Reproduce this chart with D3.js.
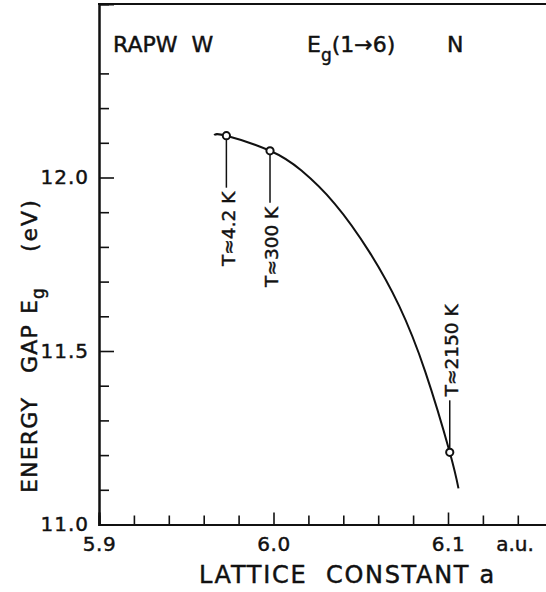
<!DOCTYPE html>
<html><head><meta charset="utf-8">
<script src="https://cdn.jsdelivr.net/npm/d3@7"></script>
<style>
body{margin:0;background:#fff}
svg{display:block;font-family:"DejaVu Sans",sans-serif;overflow:hidden}
svg text{stroke:#111;stroke-width:0.45px}
</style></head><body>
<svg id="chart" width="546" height="592"></svg>
<script>
// RAPW energy gap Eg(1->6) at N for W versus lattice constant
const curveA = [5.966, 5.973, 5.998, 6.016, 6.035, 6.055, 6.072, 6.087, 6.101, 6.106];
const curveE = [12.122, 12.1205, 12.077, 12.020, 11.925, 11.785, 11.630, 11.440, 11.208, 11.104];

// Temperatures marked on the curve
const tempLabels = ["T\u22484.2 K", "T\u2248300 K", "T\u22482150 K"];
const tempA = [5.973, 5.998, 6.101];
const tempE = [12.1205, 12.077, 11.208];
const tempSide = ["below", "below", "above"];

// Axis ticks
const xMajor = [5.9, 6.0, 6.1];
const xMinor = [5.92, 5.94, 5.96, 5.98, 6.02, 6.04, 6.06, 6.08, 6.12, 6.14, 6.16];
const yMajor = [11.0, 11.5, 12.0];
const yMinor = [11.1, 11.2, 11.3, 11.4, 11.6, 11.7, 11.8, 11.9, 12.1, 12.2, 12.3];

const svg = d3.select("#chart");
const x = d3.scaleLinear().domain([5.9, 6.2]).range([99, 622.5]);
const y = d3.scaleLinear().domain([11.0, 12.5]).range([524.5, 4]);
const ink = "#111";

// frame: top border
svg.append("line")
  .attr("x1", x(5.9) - 1).attr("x2", x(6.2))
  .attr("y1", y(12.5)).attr("y2", y(12.5))
  .attr("stroke", ink).attr("stroke-width", 2);

// x axis
const gx = svg.append("g").attr("transform", `translate(0,${y(11.0)})`);
gx.call(d3.axisBottom(x).tickValues(xMinor).tickSize(-9).tickFormat(""));
gx.call(g => g.append("g").call(
  d3.axisBottom(x).tickValues(xMajor).tickSize(-12).tickPadding(12).tickFormat(d3.format(".1f"))));
gx.selectAll("path.domain").attr("stroke", ink).attr("stroke-width", 2);
gx.selectAll(".tick line").attr("stroke", ink).attr("stroke-width", 1.6);
gx.selectAll(".tick text").attr("fill", ink).attr("font-size", 20)
  .attr("font-family", "DejaVu Sans").attr("letter-spacing", 0.5);
svg.append("text").attr("x", 515).attr("y", 551).attr("text-anchor", "middle")
  .attr("font-size", 20).attr("fill", ink).text("a.u.");

// y axis
const gy = svg.append("g").attr("transform", `translate(${x(5.9)},0)`);
gy.call(d3.axisLeft(y).tickValues(yMinor).tickSize(-10).tickFormat(""));
gy.call(g => g.append("g").call(
  d3.axisLeft(y).tickValues(yMajor).tickSize(-15).tickPadding(10).tickFormat(d3.format(".1f"))));
gy.selectAll("path.domain").attr("stroke", ink).attr("stroke-width", 2);
gy.selectAll(".tick line").attr("stroke", ink).attr("stroke-width", 1.6);
gy.selectAll(".tick text").attr("fill", ink).attr("font-size", 20)
  .attr("font-family", "DejaVu Sans").attr("letter-spacing", 1);

// axis titles
svg.append("text").attr("x", 199).attr("y", 583).attr("font-size", 24)
  .attr("letter-spacing", 1.7).attr("fill", ink)
  .text("LATTICE\u00A0\u00A0CONSTANT\u00A0a");

const yt = svg.append("text")
  .attr("transform", `translate(37,493) rotate(-90)`)
  .attr("font-size", 22).attr("letter-spacing", 1.2).attr("fill", ink);
yt.append("tspan").attr("x", 0).text("ENERGY");
yt.append("tspan").attr("x", 120).text("GAP");
yt.append("tspan").attr("x", 179).text("E");
yt.append("tspan").attr("font-size", 17).attr("dy", 7).text("g");
yt.append("tspan").attr("x", 241).attr("dy", -7).attr("letter-spacing", 2).text("(eV)");

// header
svg.append("text").attr("x", 113).attr("y", 52).attr("font-size", 22)
  .attr("fill", ink).text("RAPW\u00A0\u00A0W");
const hd = svg.append("text").attr("x", 307).attr("y", 52).attr("font-size", 22).attr("fill", ink);
hd.append("tspan").text("E");
hd.append("tspan").attr("font-size", 17).attr("dy", 9).text("g");
hd.append("tspan").attr("dy", -9).text("(1\u21926)");
svg.append("text").attr("x", 447).attr("y", 52).attr("font-size", 22)
  .attr("fill", ink).text("N");

// curve
const pts = curveA.map((a, i) => [a, curveE[i]]);
svg.append("path").datum(pts)
  .attr("d", d3.line().x(d => x(d[0])).y(d => y(d[1])).curve(d3.curveNatural))
  .attr("fill", "none").attr("stroke", ink).attr("stroke-width", 2);

// temperature markers with leaders and rotated labels
const marks = tempA.map((a, i) => ({a, e: tempE[i], label: tempLabels[i], side: tempSide[i]}));
const lead = 52, gap = 4;
const mg = svg.selectAll("g.mark").data(marks).join("g").attr("class", "mark");
mg.append("line")
  .attr("x1", d => x(d.a)).attr("x2", d => x(d.a))
  .attr("y1", d => y(d.e) + (d.side === "below" ? 4 : -4))
  .attr("y2", d => y(d.e) + (d.side === "below" ? lead : -lead))
  .attr("stroke", ink).attr("stroke-width", 1.5);
mg.append("circle")
  .attr("cx", d => x(d.a)).attr("cy", d => y(d.e)).attr("r", 3.6)
  .attr("fill", "#fff").attr("stroke", ink).attr("stroke-width", 2);
mg.append("text")
  .attr("transform", d => {
    const ty = y(d.e) + (d.side === "below" ? lead + gap : -lead - gap);
    return `translate(${x(d.a) + 1.5},${ty}) rotate(-90)`;
  })
  .attr("text-anchor", d => d.side === "below" ? "end" : "start")
  .attr("dy", "0.36em").attr("font-size", 18.5).attr("fill", ink)
  .text(d => d.label);
</script>
</body></html>
